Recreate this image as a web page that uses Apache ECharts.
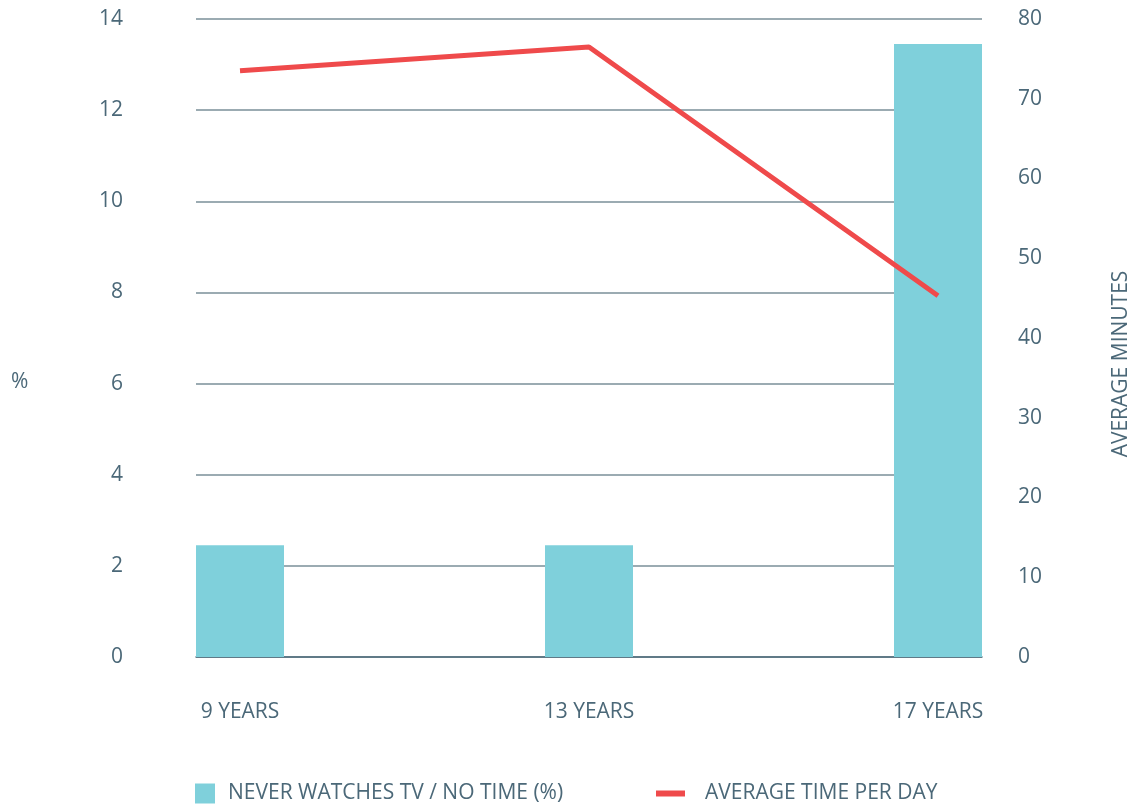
<!DOCTYPE html>
<html>
<head>
<meta charset="utf-8">
<script src="https://cdn.jsdelivr.net/npm/echarts@6/dist/echarts.min.js"></script>
<style>
  html, body { margin: 0; padding: 0; background: #fff; }
  #chart { width: 1144px; height: 809px; }
</style>
</head>
<body>
<div id="chart"></div>
<script>
const categories = ['9 YEARS', '13 YEARS', '17 YEARS']
const neverWatches = [2.45, 2.45, 13.45]
const avgMinutes = [73.5, 76.5, 45.3]
const leftTicks = { min: 0, max: 14, interval: 2 }
const rightTicks = { min: 0, max: 80, interval: 10 }

const TEXT = '#4b6878'
const FONT = 'Open Sans'
const FS = 21
const BAR = '#7fd0db'
const RED = '#ef4a4b'

const chart = echarts.init(document.getElementById('chart'))

chart.setOption({
  backgroundColor: '#fff',
  textStyle: { fontFamily: FONT, color: TEXT },
  grid: [
    { left: 196, right: 162, top: 19, bottom: 152 },
    { left: 240, right: 206, top: 19, bottom: 152 },
  ],
  // axis titles sit off-centre in the original, so place them by hand
  graphic: [
    {
      type: 'text', left: 11, top: 372,
      style: { text: '%', fill: TEXT, fontSize: FS, fontFamily: FONT },
    },
    {
      type: 'text', x: 1111, y: 364, rotation: Math.PI / 2,
      style: {
        text: 'AVERAGE MINUTES', fill: TEXT, fontSize: FS, fontFamily: FONT,
        align: 'center', verticalAlign: 'top',
      },
    },
  ],
  legend: [
    {
      data: ['NEVER WATCHES TV / NO TIME (%)'],
      left: 190, top: 778,
      icon: 'rect', itemWidth: 20, itemHeight: 20,
      textStyle: { fontFamily: FONT, fontSize: FS, color: TEXT, padding: [0, 0, 0, 8] },
    },
    {
      data: ['AVERAGE TIME PER DAY'],
      left: 651, top: 778,
      icon: 'rect', itemWidth: 29, itemHeight: 6,
      textStyle: { fontFamily: FONT, fontSize: FS, color: TEXT, padding: [0, 0, 0, 15] },
    },
  ],
  xAxis: [
    {
      gridIndex: 0, type: 'value', min: 0, max: 1,
      axisLine: { show: true, lineStyle: { color: '#4e6b7a', width: 1.5 } },
      axisTick: { show: false }, axisLabel: { show: false }, splitLine: { show: false },
    },
    {
      gridIndex: 1, type: 'category', data: categories, boundaryGap: false,
      axisLine: { show: false }, axisTick: { show: false },
      axisLabel: { color: TEXT, fontSize: FS, fontFamily: FONT, margin: 45 },
    },
  ],
  yAxis: [
    {
      gridIndex: 0, type: 'value', ...leftTicks,
      axisLine: { show: false }, axisTick: { show: false },
      axisLabel: { color: TEXT, fontSize: FS, fontFamily: FONT, margin: 73 },
      splitLine: { lineStyle: { color: '#7a8f99', width: 1.5 } },
    },
    {
      gridIndex: 1, type: 'value', ...leftTicks, show: false,
      splitLine: { show: false },
    },
    {
      gridIndex: 1, type: 'value', position: 'right', ...rightTicks,
      axisLine: { show: false }, axisTick: { show: false },
      axisLabel: { color: TEXT, fontSize: FS, fontFamily: FONT, margin: 80 },
      splitLine: { show: false },
    },
  ],
  series: [
    {
      name: 'NEVER WATCHES TV / NO TIME (%)',
      type: 'bar', xAxisIndex: 1, yAxisIndex: 1,
      barWidth: 88,
      itemStyle: { color: BAR },
      data: neverWatches,
    },
    {
      name: 'AVERAGE TIME PER DAY',
      type: 'line', xAxisIndex: 1, yAxisIndex: 2,
      symbol: 'none',
      itemStyle: { color: RED },
      lineStyle: { color: RED, width: 5 },
      data: avgMinutes,
    },
  ],
})
</script>
</body>
</html>
